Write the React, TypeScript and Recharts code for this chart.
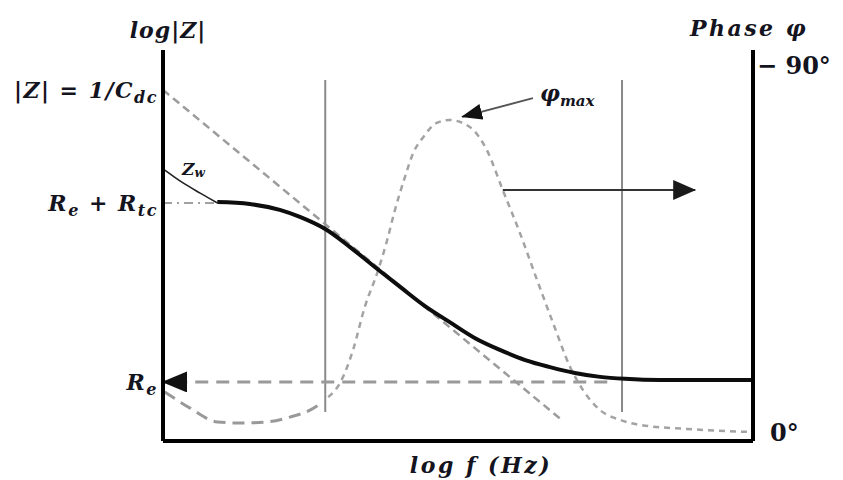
import { ComposedChart, Line, XAxis, YAxis } from 'recharts'

const FONT = '"DejaVu Serif", "Liberation Serif", serif'
const INK = '#141420'

// log f runs 0..10 along the bottom, log|Z| 0..10 on the left, phase in degrees on the right
const magTicks = [8.98, 6.09, 1.51]
const phaseTicks = [0, 90]

// Warburg tail at low frequency
const zwX = [0.03, 0.34, 0.63, 0.92]
const zwY = [6.93, 6.6, 6.34, 6.09]

// total impedance magnitude
const magX = [0.92, 1.47, 1.98, 2.32, 2.75, 3.17, 3.59, 4.02, 4.44, 4.86, 5.29, 5.71, 6.14, 6.56, 6.98, 7.41, 7.83, 8.42, 10]
const magY = [6.11, 6.06, 5.91, 5.73, 5.42, 4.96, 4.45, 3.94, 3.45, 3.04, 2.63, 2.33, 2.07, 1.89, 1.74, 1.64, 1.59, 1.56, 1.56]

// capacitive asymptote |Z| = 1/Cdc
const capX = [0, 6.78]
const capY = [8.98, 0.51]

// Re + Rtc level
const rctX = [0, 0.92]
const rctY = [6.09, 6.09]

// Re level, drawn right to left so the arrow points at the axis
const reX = [7.53, 0]
const reY = [1.51, 1.51]

// phase, low-frequency part and the main peak
const phaseLowX = [0.03, 0.46, 0.92, 1.31, 1.76, 2.15, 2.49, 2.71]
const phaseLowY = [10.05, 6.1, 2.7, 2.45, 2.7, 3.9, 5.6, 7.6]
const phaseX = [2.8, 3.0, 3.22, 3.42, 3.63, 3.8, 3.93, 4.1, 4.24, 4.41, 4.64, 4.86, 5.2, 5.49, 5.76, 6.05, 6.34, 6.61, 6.9, 7.12, 7.41, 7.75, 8.08, 8.88, 9.95]
const phaseY = [8.8, 12.25, 20.3, 30.9, 39.2, 47.3, 54.6, 62.7, 68.6, 72.5, 76, 76.7, 75, 69.3, 59.5, 49, 37.5, 27, 16.2, 10.5, 5.6, 3.2, 2, 1, 0.25]

// characteristic frequency bounds
const boundX = [2.75, 7.78]
const boundY = [9.23, 0.74]

// annotation arrows
const toPhaseX = [5.76, 9.02]
const toPhaseY = [6.42, 6.42]
const peakArrowX = [6.27, 5.07]
const peakArrowY = [8.77, 8.29]

const zip = (xs: number[], ys: number[]) => xs.map((x, i) => ({ x, y: ys[i] }))

const MagTick = ({ x, y, payload }: any) => {
  const common = {
    x: x + 3,
    y,
    dy: 8,
    textAnchor: 'end' as const,
    fontFamily: FONT,
    fontWeight: 700,
    fontStyle: 'italic',
    fontSize: 22,
    letterSpacing: 1.5,
    fill: INK,
  }
  if (payload.value === magTicks[0]) {
    return (
      <text {...common}>
        |Z| = 1/C<tspan fontSize={16} dy={5}>dc</tspan>
      </text>
    )
  }
  if (payload.value === magTicks[1]) {
    return (
      <text {...common}>
        R<tspan fontSize={16} dy={5}>e</tspan>
        <tspan dy={-5}> + R</tspan>
        <tspan fontSize={16} dy={5}>tc</tspan>
      </text>
    )
  }
  return (
    <text {...common}>
      R<tspan fontSize={16} dy={5}>e</tspan>
    </text>
  )
}

const PhaseTick = ({ x, y, payload }: any) => (
  <text
    x={payload.value === 90 ? x - 4 : x + 9}
    y={y}
    dy={8}
    textAnchor="start"
    fontFamily={FONT}
    fontWeight={700}
    fontSize={24}
    fill={INK}
  >
    {payload.value === 90 ? '− 90°' : '0°'}
  </text>
)

const seg = (key: string, xs: number[], ys: number[], props: any, axis = 'mag') => (
  <Line
    key={key}
    data={zip(xs, ys)}
    dataKey="y"
    yAxisId={axis}
    type="linear"
    dot={false}
    activeDot={false}
    legendType="none"
    isAnimationActive={false}
    {...props}
  />
)

export default function App() {
  return (
    <div style={{ position: 'absolute', left: 0, top: 0, background: '#fff' }}>
      <ComposedChart width={843} height={480} margin={{ top: 50, right: 0, bottom: 0, left: 0 }}>
        <defs>
          <marker id="headRe" markerUnits="userSpaceOnUse" markerWidth={25} markerHeight={21} refX={24} refY={10.5} orient="auto">
            <path d="M0,0 L25,10.5 L0,21 z" fill="#111" />
          </marker>
          <marker id="headPhase" markerUnits="userSpaceOnUse" markerWidth={23} markerHeight={20} refX={22} refY={10} orient="auto">
            <path d="M0,0 L23,10 L0,20 z" fill="#1a1a1a" />
          </marker>
          <marker id="headPeak" markerUnits="userSpaceOnUse" markerWidth={21} markerHeight={16} refX={20} refY={8} orient="auto">
            <path d="M0,0 L21,8 L0,16 z" fill="#111" />
          </marker>
        </defs>
        <XAxis
          dataKey="x"
          type="number"
          domain={[0, 10]}
          allowDataOverflow
          tick={false}
          tickLine={false}
          height={39}
          axisLine={{ stroke: '#000', strokeWidth: 4 }}
        />
        <YAxis
          yAxisId="mag"
          domain={[0, 10]}
          ticks={magTicks}
          interval={0}
          width={163}
          tickLine={false}
          axisLine={{ stroke: '#000', strokeWidth: 4 }}
          tick={(p: any) => <MagTick {...p} />}
        />
        <YAxis
          yAxisId="phase"
          orientation="right"
          domain={[-1.96, 93.87]}
          ticks={phaseTicks}
          interval={0}
          width={90}
          tickLine={false}
          axisLine={{ stroke: '#000', strokeWidth: 4 }}
          tick={(p: any) => <PhaseTick {...p} />}
        />

        {boundX.map((bx, i) => seg('bound' + i, [bx, bx], boundY, { stroke: '#8a8a8a', strokeWidth: 2 }))}
        {seg('cap', capX, capY, { stroke: '#9c9c9c', strokeWidth: 2.5, strokeDasharray: '8 5' })}
        {seg('rct', rctX, rctY, { stroke: '#a0a0a0', strokeWidth: 2, strokeDasharray: '9 5 2 5' })}
        {seg('re', reX, reY, { stroke: '#9a9a9a', strokeWidth: 3, strokeDasharray: '13 8', markerEnd: 'url(#headRe)' })}
        {seg('phaseLow', phaseLowX, phaseLowY, { type: 'monotone', stroke: '#999', strokeWidth: 3, strokeDasharray: '12 7' }, 'phase')}
        {seg('phase', phaseX, phaseY, { type: 'monotone', stroke: '#a3a3a3', strokeWidth: 2.5, strokeDasharray: '6 5' }, 'phase')}
        {seg('zw', zwX, zwY, { type: 'monotone', stroke: '#222', strokeWidth: 1.6 })}
        {seg('mag', magX, magY, { type: 'monotone', stroke: '#0d0d0d', strokeWidth: 4 })}
        {seg('toPhase', toPhaseX, toPhaseY, { stroke: '#333', strokeWidth: 2, markerEnd: 'url(#headPhase)' })}
        {seg('peak', peakArrowX, peakArrowY, { stroke: '#555', strokeWidth: 2, markerEnd: 'url(#headPeak)' })}

        <text x={168} y={38} textAnchor="middle" fontFamily={FONT} fontWeight={700} fontStyle="italic" fontSize={22} letterSpacing={1} fill={INK}>
          log|Z|
        </text>
        <text x={749} y={36} textAnchor="middle" fontFamily={FONT} fontWeight={700} fontStyle="italic" fontSize={22} letterSpacing={2.5} fill={INK}>
          Phase φ
        </text>
        <text x={481} y={473} textAnchor="middle" fontFamily={FONT} fontWeight={700} fontStyle="italic" fontSize={22} letterSpacing={2.5} fill={INK}>
          log f (Hz)
        </text>
        <text x={182} y={175} fontFamily={FONT} fontWeight={700} fontStyle="italic" fontSize={17} fill={INK}>
          Z<tspan fontSize={12} dy={2}>w</tspan>
        </text>
        <text x={540} y={101} fontFamily={FONT} fontWeight={700} fontStyle="italic" fontSize={22} fill={INK}>
          φ<tspan fontSize={15} dy={5}>max</tspan>
        </text>
      </ComposedChart>
    </div>
  )
}
